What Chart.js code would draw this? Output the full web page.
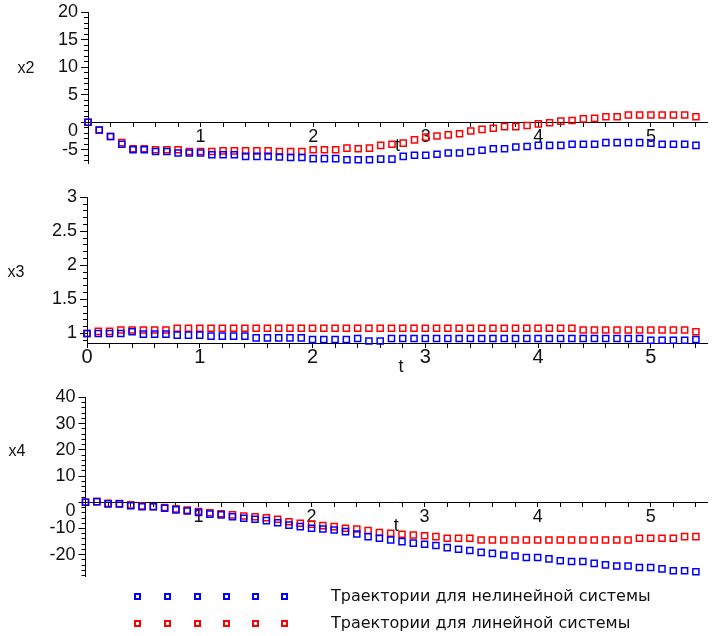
<!DOCTYPE html>
<html>
<head>
<meta charset="utf-8">
<script src="https://cdn.jsdelivr.net/npm/chart.js@4.4.1/dist/chart.umd.min.js"></script>
<style>
  body { margin: 0; background: #fff; }
  #wrap { position: relative; width: 713px; height: 636px; overflow: hidden; }
  #wrap canvas { position: absolute; left: 0; top: 0; }
  .sq { position: absolute; width: 7px; height: 7px; box-sizing: border-box; border: 2px solid; }
  .txt { position: absolute; left: 331px; font: 16px "DejaVu Sans", sans-serif; line-height: 20px; color: #111; white-space: nowrap; }
</style>
</head>
<body>
<div id="wrap">
  <canvas id="c1" width="713" height="636"></canvas>
  <canvas id="c2" width="713" height="636"></canvas>
  <canvas id="c3" width="713" height="636"></canvas>
  <div id="legend"></div>
</div>
<script>
// time points (t)
var tValues = [0,0.1,0.2,0.3,0.4,0.5,0.6,0.7,0.8,0.9,1,1.1,1.2,1.3,1.4,1.5,1.6,1.7,1.8,1.9,
  2,2.1,2.2,2.3,2.4,2.5,2.6,2.7,2.8,2.9,3,3.1,3.2,3.3,3.4,3.5,3.6,3.7,3.8,3.9,
  4,4.1,4.2,4.3,4.4,4.5,4.6,4.7,4.8,4.9,5,5.1,5.2,5.3,5.4];

// x2
var x2Nonlinear = [0,-1.4,-2.6,-4.0,-5.0,-5.0,-5.3,-5.3,-5.6,-5.6,
  -5.6,-5.9,-5.9,-5.9,-6.2,-6.2,-6.2,-6.3,-6.4,-6.4,
  -6.6,-6.6,-6.6,-6.8,-6.8,-6.8,-6.7,-6.7,-6.2,-6.0,
  -6.0,-5.8,-5.6,-5.6,-5.3,-5.1,-4.8,-4.8,-4.5,-4.4,
  -4.2,-4.2,-4.2,-4.0,-4.0,-4.0,-3.7,-3.7,-3.7,-3.7,
  -3.8,-4.0,-4.0,-4.0,-4.2];
var x2Linear = [0,-1.4,-2.6,-3.7,-4.8,-4.8,-5.0,-5.0,-5.0,-5.3,
  -5.3,-5.3,-5.2,-5.2,-5.2,-5.2,-5.2,-5.3,-5.3,-5.3,
  -5.0,-5.0,-5.0,-4.7,-4.8,-4.7,-4.2,-4.0,-3.8,-3.2,
  -2.7,-2.5,-2.3,-2.1,-1.6,-1.3,-1.1,-0.8,-0.8,-0.6,
  -0.3,-0.1,0.2,0.3,0.6,0.7,1.0,1.0,1.3,1.3,
  1.3,1.3,1.3,1.3,1.0];

// x3
var x3Nonlinear = [1.0,1.0,1.0,1.0,1.025,0.99,0.99,0.99,0.975,0.975,
  0.975,0.96,0.96,0.96,0.96,0.935,0.935,0.935,0.935,0.935,
  0.91,0.91,0.91,0.91,0.925,0.89,0.89,0.925,0.925,0.925,
  0.925,0.925,0.925,0.925,0.925,0.925,0.925,0.925,0.925,0.925,
  0.925,0.925,0.925,0.925,0.925,0.925,0.925,0.925,0.925,0.925,
  0.90,0.90,0.90,0.90,0.91];
var x3Linear = [1.0,1.03,1.03,1.05,1.05,1.05,1.05,1.05,1.075,1.075,
  1.075,1.075,1.075,1.075,1.075,1.075,1.075,1.075,1.075,1.075,
  1.075,1.075,1.075,1.075,1.075,1.075,1.075,1.075,1.075,1.075,
  1.075,1.075,1.075,1.075,1.075,1.075,1.075,1.075,1.075,1.075,
  1.075,1.075,1.075,1.075,1.05,1.05,1.05,1.05,1.05,1.05,
  1.05,1.05,1.05,1.05,1.025];

// x4
var x4Nonlinear = [0,0.25,-0.6,-0.6,-1.3,-1.7,-1.7,-2.3,-2.9,-3.3,
  -3.9,-4.5,-4.8,-5.5,-6.1,-6.5,-7.0,-7.8,-8.7,-9.3,
  -9.9,-10.2,-10.6,-11.2,-12.1,-13.1,-13.7,-14.4,-15.0,-15.6,
  -16.0,-16.5,-17.3,-17.9,-18.4,-19.1,-19.5,-20.1,-20.5,-21.1,
  -21.1,-21.6,-22.3,-22.6,-22.6,-23.3,-23.9,-24.3,-24.3,-24.9,
  -24.9,-25.4,-26.1,-26.1,-26.5];
var x4Linear = [0,0.25,-0.4,-0.5,-1.0,-1.4,-1.6,-2.0,-2.5,-3.0,
  -3.5,-4.0,-4.4,-4.8,-5.2,-5.5,-5.9,-6.5,-7.4,-8.0,
  -8.4,-8.9,-9.3,-9.9,-10.2,-10.8,-11.5,-11.8,-12.2,-12.5,
  -12.8,-13.1,-13.7,-13.7,-13.7,-14.4,-14.4,-14.4,-14.4,-14.4,
  -14.4,-14.4,-14.4,-14.4,-14.4,-14.4,-14.4,-14.4,-14.4,-13.7,
  -13.7,-13.7,-13.7,-13.1,-13.1];

var legendLabels = ['Траектории для нелинейной системы', 'Траектории для линейной системы'];
var seriesColors = ['#0000ff', '#ff0000'];

var FONT = '"Liberation Sans", Arial, sans-serif';

// draws "t" under the x axis and the y name at the left
var axisNames = {
  id: 'axisNames',
  afterDraw: function(chart, args, opts) {
    var ctx = chart.ctx;
    var xs = chart.scales.x, ys = chart.scales.y;
    ctx.save();
    ctx.fillStyle = '#111';
    ctx.textAlign = 'center';
    ctx.textBaseline = 'middle';
    ctx.font = '18px ' + FONT;
    ctx.fillText('t', (xs.left + xs.right) / 2 + opts.tDx, ys.getPixelForValue(opts.xAxisAt) + 24);
    ctx.font = '16px ' + FONT;
    ctx.fillText(opts.yName, opts.yNameX, opts.yNameY);
    ctx.restore();
  }
};

function toPoints(ys) {
  return tValues.map(function(t, i) { return {x: t, y: ys[i]}; });
}

function isMultiple(v, step) {
  var r = v / step;
  return Math.abs(r - Math.round(r)) < 1e-6;
}

function makePanel(id, p) {
  return new Chart(document.getElementById(id), {
    type: 'scatter',
    data: {
      datasets: [
        { label: legendLabels[0], data: toPoints(p.nonlinear), borderColor: seriesColors[0] },
        { label: legendLabels[1], data: toPoints(p.linear), borderColor: seriesColors[1] }
      ]
    },
    options: {
      responsive: false,
      animation: false,
      devicePixelRatio: 1,
      events: [],
      layout: { padding: { left: p.left - 50, right: 4.5, top: p.top, bottom: 636 - p.bottom } },
      elements: {
        point: { pointStyle: 'rect', radius: 4.3, hoverRadius: 4.3, borderWidth: 1.5, backgroundColor: 'rgba(0,0,0,0)' }
      },
      datasets: { scatter: { clip: false } },
      plugins: {
        legend: { display: false },
        tooltip: { enabled: false },
        axisNames: { yName: p.yName, yNameX: p.yNameX, yNameY: p.yNameY, xAxisAt: p.xAxisAt, tDx: p.tDx }
      },
      scales: {
        x: {
          type: 'linear', min: 0, max: 5.5,
          position: { y: p.xAxisAt },
          border: { color: '#000', width: 1 },
          grid: { drawOnChartArea: false, tickLength: 4, color: '#000' },
          ticks: {
            stepSize: 0.2, autoSkip: false, maxRotation: 0, includeBounds: false,
            padding: p.xPad, color: '#111',
            font: { family: FONT, size: p.xFont, lineHeight: 1 },
            callback: function(v) {
              if (!isMultiple(v, 1)) return '';
              if (v === 0 && !p.showZeroT) return '';
              return String(Math.round(v));
            }
          }
        },
        y: {
          type: 'linear', min: p.yMin, max: p.yMax,
          position: 'left',
          afterFit: function(s) { s.width = 50; },
          border: { color: '#000', width: 1 },
          grid: {
            drawOnChartArea: false, tickLength: 7, color: '#000',
            // minor ticks: only the 4px next to the axis
            tickBorderDash: function(ctx) {
              return (ctx.tick && isMultiple(ctx.tick.value, p.yMajor)) ? [] : [0, 3, 4, 20];
            }
          },
          ticks: {
            stepSize: p.yStep, autoSkip: false, includeBounds: false, maxTicksLimit: 1000,
            padding: 3, color: '#111',
            font: { family: FONT, size: 18, lineHeight: 1 },
            callback: function(v) {
              if (!isMultiple(v, p.yMajor)) return '';
              if (Math.abs(v) < 1e-9 && p.dropZero) return ['', '0'];
              return String(+v.toFixed(2));
            }
          }
        }
      }
    },
    plugins: [axisNames]
  });
}

makePanel('c1', {
  nonlinear: x2Nonlinear, linear: x2Linear,
  yMin: -7.4, yMax: 20, yStep: 1, yMajor: 5,
  left: 88, top: 12, bottom: 163, xAxisAt: 0, dropZero: true, showZeroT: false,
  xFont: 18, xPad: 2, tDx: 0,
  yName: 'x2', yNameX: 26, yNameY: 69
});
makePanel('c2', {
  nonlinear: x3Nonlinear, linear: x3Linear,
  yMin: 0.855, yMax: 3, yStep: 0.1, yMajor: 0.5,
  left: 87, top: 197.3, bottom: 343.3, xAxisAt: 0.855, dropZero: false, showZeroT: true,
  xFont: 20, xPad: 0, tDx: 4,
  yName: 'x3', yNameX: 16, yNameY: 273
});
makePanel('c3', {
  nonlinear: x4Nonlinear, linear: x4Linear,
  yMin: -28.4, yMax: 40, yStep: 2, yMajor: 10,
  left: 85.5, top: 397.5, bottom: 576.7, xAxisAt: 0, dropZero: true, showZeroT: false,
  xFont: 18, xPad: 2, tDx: 0,
  yName: 'x4', yNameX: 17, yNameY: 452
});

// legend: six markers per row, then the label
var legend = document.getElementById('legend');
var markerX = [137, 167, 197, 226, 255, 284];
var rowY = [596, 623];
legendLabels.forEach(function(label, r) {
  markerX.forEach(function(x) {
    var s = document.createElement('div');
    s.className = 'sq';
    s.style.left = (x - 3.5) + 'px';
    s.style.top = (rowY[r] - 3.5) + 'px';
    s.style.borderColor = seriesColors[r];
    legend.appendChild(s);
  });
  var t = document.createElement('div');
  t.className = 'txt';
  t.style.top = (rowY[r] - 10.5) + 'px';
  t.textContent = label;
  legend.appendChild(t);
});
</script>
</body>
</html>
